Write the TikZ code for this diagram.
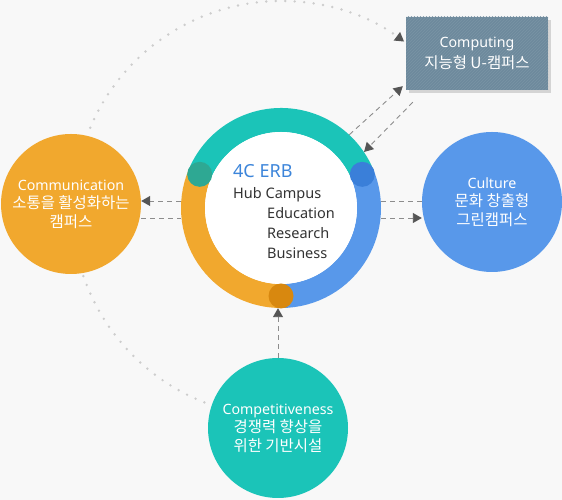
\documentclass[tikz,border=0pt]{standalone}
\usepackage{fontspec}
\setmainfont{Noto Sans}
\newfontfamily\kr[Scale=1.09]{Noto Sans CJK KR}
\usetikzlibrary{arrows.meta,patterns,shadows,calc}
\definecolor{bg}{HTML}{F8F8F8}
\definecolor{orangec}{HTML}{F1A82E}
\definecolor{tealc}{HTML}{1BC4B8}
\definecolor{bluec}{HTML}{5898EA}
\definecolor{boxc}{HTML}{6E8A9D}
\definecolor{hatchc}{HTML}{7A94A5}
\definecolor{shadowc}{HTML}{D4D4D4}
\definecolor{dotL}{HTML}{2EA893}
\definecolor{dotR}{HTML}{3A7FD9}
\definecolor{dotB}{HTML}{D8880F}
\definecolor{arrowc}{HTML}{555555}
\definecolor{dashc}{HTML}{8C8C8C}
\definecolor{dotc}{HTML}{CDCDCD}
\definecolor{titlec}{HTML}{3C85DA}
\definecolor{textc}{HTML}{333333}
\begin{document}
\begin{tikzpicture}[x=1pt,y=1pt,
  bubble/.style={circle, minimum size=140pt, inner sep=0pt, text=white, align=center,
                 font=\fontsize{14.2}{18.5}\selectfont},
  ctext/.style={anchor=base west, inner sep=0pt, text=textc, font=\fontsize{14.5}{18}\selectfont},
  dashline/.style={draw=dashc, line width=0.9pt, dash pattern=on 5pt off 4pt},
  dotarc/.style={draw=dotc, line width=2.7pt, line cap=round, dash pattern=on 0pt off 9.5pt},
  tip/.style={-{Triangle[length=9pt,width=10pt,color=arrowc]}}
]
\useasboundingbox (0,0) rectangle (562,500);
\fill[bg] (0,0) rectangle (562,500);

% nodes
\node[bubble, fill=orangec] (comm) at (71,296) {Communication\\{\kr 소통을 활성화하는}\\{\kr 캠퍼스}};
\node[bubble, fill=bluec] (culture) at (492,298) {Culture\\{\kr 문화 창출형}\\{\kr 그린캠퍼스}};
\node[bubble, fill=tealc] (comp) at (278,72) {Competitiveness\\{\kr 경쟁력 향상을}\\{\kr 위한 기반시설}};
\node[fill=boxc, minimum width=142pt, minimum height=73pt, inner sep=0pt,
      general shadow={fill=shadowc, shadow xshift=3pt, shadow yshift=-3pt},
      postaction={pattern=north east lines, pattern color=hatchc},
      text=white, align=center, font=\fontsize{14.2}{21}\selectfont]
      (box) at (477,446.5) {Computing\\{\kr 지능형 U-캠퍼스}};
\node[circle, minimum size=200pt, inner sep=0pt] (ring) at (281,292) {};

% ring
\draw[orangec, line width=24pt] ($(ring.center)+(157.5:88pt)$) arc[start angle=157.5, end angle=270, radius=88pt];
\draw[bluec, line width=24pt] ($(ring.center)+(-90:88pt)$) arc[start angle=-90, end angle=22.5, radius=88pt];
\draw[tealc, line width=24pt] ($(ring.center)+(22.5:88pt)$) arc[start angle=22.5, end angle=157.5, radius=88pt];
\fill[white] (ring.center) circle (76pt);
\fill[dotL] ($(ring.center)+(157.5:88pt)$) circle (12.5pt);
\fill[dotR] ($(ring.center)+(22.5:88pt)$) circle (12.5pt);
\fill[dotB] ($(ring.center)+(-90:88pt)$) circle (12.5pt);

% center text
\node[ctext, text=titlec, font=\fontsize{18}{20}\selectfont] (title) at (233,322) {4C ERB};
\node[ctext] (hub) at (233,301) {Hub Campus};
\node[ctext] (edu) at (267,281) {Education};
\node[ctext] (res) at (267,261) {Research};
\node[ctext] (bus) at (267,241) {Business};

% dotted arcs
\draw[dotarc, tip] ($(ring.center)+(157.2:207pt)$) arc[start angle=157.2, end angle=53.5, radius=207pt];
\draw[dotarc] ($(ring.center)+(199:209pt)$) arc[start angle=199, end angle=249.5, radius=209pt];

% dashed connectors
\draw[dashline, tip] (ring.47) -- ([shift={(-3,4)}]box.south west);
\draw[dashline, tip] ([shift={(7,-12)}]box.south west) -- (ring.34);
\draw[dashline, tip] ([yshift=7pt]ring.west) -- ([yshift=7pt]ring.west -| comm.east);
\draw[dashline] ([yshift=-10pt]ring.west -| comm.east) -- ([yshift=-10pt]ring.west);
\draw[dashline] ([yshift=7pt]ring.east) -- ([yshift=7pt]ring.east -| culture.west);
\draw[dashline, tip] ([yshift=-10pt]ring.east) -- ([yshift=-10pt]ring.east -| culture.west);
\draw[dashline, tip] (comp.north) -- (comp.north |- ring.south);
\end{tikzpicture}
\end{document}
